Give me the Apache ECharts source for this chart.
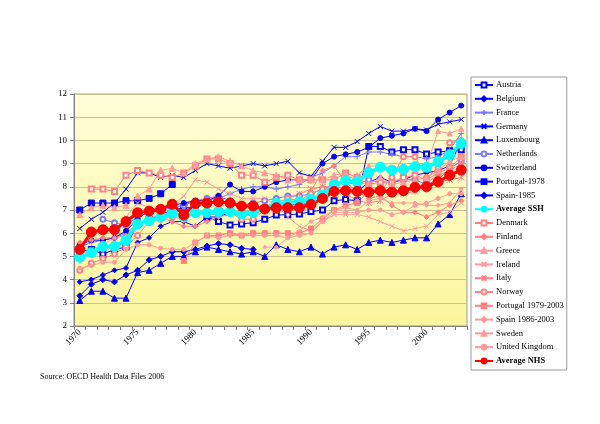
<!DOCTYPE html>
<html><head><meta charset="utf-8">
<script src="https://cdn.jsdelivr.net/npm/echarts@6/dist/echarts.min.js"></script>
<style>html,body{margin:0;padding:0;background:#fff}#c{width:600px;height:424px}</style>
</head><body><div id="c"></div>
<script>
const years = ['1970','1971','1972','1973','1974','1975','1976','1977','1978','1979','1980','1981','1982','1983','1984','1985','1986','1987','1988','1989','1990','1991','1992','1993','1994','1995','1996','1997','1998','1999','2000','2001','2002','2003'];
const yTicks = [2,3,4,5,6,7,8,9,10,11,12];
const _ = null;
const austria     = [5.2,5.3,5.1,5.3,5.4,6.4,6.6,6.8,7.0,7.1, 7.1,6.7,6.5,6.35,6.4,6.45,6.6,6.78,6.8,6.83, 6.93,7.0,7.4,7.45,7.4,9.74,9.74,9.5,9.6,9.6, 9.41,9.5,9.55,9.6];
const belgium     = [3.9,4.0,4.2,4.4,4.5,5.6,5.8,6.3,6.5,6.5, 6.3,6.7,6.7,6.9,6.8,7.0,7.1,7.2,7.2,7.3, 7.2,7.6,7.8,7.9,7.8,8.2,8.4,8.2,8.3,8.5, 8.6,8.7,8.9,10.0];
const france      = [5.4,5.6,5.7,5.8,6.0,6.4,6.6,6.7,6.9,7.0, 7.0,7.4,7.5,7.7,7.9,8.0,8.0,7.9,8.0,8.1, 8.4,8.6,8.9,9.3,9.3,9.5,9.5,9.4,9.3,9.3, 9.2,9.3,9.6,10.3];
const germany     = [6.2,6.6,6.9,7.3,7.9,8.6,8.6,8.4,8.5,8.4, 8.7,9.0,8.9,8.8,8.9,9.0,8.9,9.0,9.1,8.6, 8.45,9.1,9.7,9.7,9.95,10.3,10.6,10.4,10.4,10.5, 10.45,10.7,10.8,10.9];
const luxembourg  = [3.1,3.5,3.5,3.2,3.2,4.3,4.4,4.7,5.0,5.0, 5.2,5.4,5.3,5.2,5.1,5.2,5.0,5.5,5.3,5.2, 5.4,5.1,5.4,5.5,5.3,5.6,5.7,5.6,5.7,5.8, 5.8,6.4,6.8,7.7];
const netherlands = [_,_,6.6,6.45,6.35,6.7,6.9,7.0,7.1,7.2, 7.4,7.5,7.6,7.4,7.2,7.3,7.4,7.5,7.6,7.6, 7.7,7.9,8.1,8.2,8.1,8.3,8.2,8.2,8.3,8.3, 8.1,8.3,8.8,9.1];
const switzerland = [5.5,5.7,5.7,5.8,6.1,6.6,7.0,7.1,7.2,7.3, 7.4,7.4,7.6,8.1,7.8,7.8,8.0,8.2,8.3,8.3, 8.3,9.0,9.3,9.4,9.5,9.7,10.1,10.2,10.3,10.5, 10.4,10.9,11.2,11.5];
const portugal78  = [7.0,7.3,7.3,7.3,7.4,7.4,7.5,7.7,8.1,_, _,_,_,_,_,_,_,_,_,_, _,_,_,_,_,_,_,_,_,_, _,_,_,_];
const spain85     = [3.3,3.8,4.0,3.9,4.2,4.4,4.85,5.0,5.2,5.2, 5.3,5.45,5.55,5.5,5.35,5.3,_,_,_,_, _,_,_,_,_,_,_,_,_,_, _,_,_,_];
const avgSSH      = [4.96,5.16,5.43,5.43,5.7,6.4,6.54,6.7,6.86,6.71, 6.88,6.89,6.93,6.93,6.83,6.89,7.07,7.29,7.29,7.36, 7.46,7.65,8.1,8.26,8.22,8.61,8.84,8.72,8.75,8.87, 8.84,9.08,9.37,9.87];
const denmark     = [_,7.9,7.9,7.8,8.5,8.7,8.6,8.5,8.4,8.6, 8.9,9.2,9.2,9.0,8.5,8.5,8.2,8.4,8.5,8.3, 8.3,8.3,8.3,8.6,8.4,8.1,8.2,8.2,8.4,8.5, 8.3,8.6,8.8,9.3];
const finland     = [5.6,5.7,5.8,5.8,5.9,6.3,6.7,6.7,6.5,6.3, 6.3,6.5,6.7,6.8,6.8,7.1,7.1,7.3,7.1,7.3, 7.8,8.7,8.9,8.2,7.8,7.5,7.6,7.2,6.9,6.9, 6.7,6.9,7.2,7.4];
const greece      = [_,_,_,_,_,_,_,_,_,_, _,_,_,_,_,_,_,7.0,7.2,7.4, 7.4,7.6,7.9,8.3,8.5,8.9,8.9,8.7,8.7,8.9, 8.9,10.4,10.3,10.5];
const ireland     = [5.1,5.3,5.5,5.8,6.7,7.3,7.1,7.0,7.2,7.6, 8.3,8.2,7.9,7.7,7.5,7.5,7.5,7.2,6.7,6.3, 6.1,6.5,6.8,6.8,6.8,6.7,6.5,6.3,6.1,6.2, 6.3,6.8,6.9,7.3];
const italy       = [_,_,_,_,_,_,_,_,_,_, _,_,_,_,_,_,_,_,7.5,7.7, 7.9,8.0,8.0,7.7,7.4,7.3,7.4,7.7,7.7,7.8, 8.1,8.2,8.3,8.4];
const norway      = [4.4,4.7,4.9,5.1,5.4,5.9,6.5,6.6,6.7,6.6, 7.0,6.8,6.8,6.9,6.6,6.6,7.0,7.3,7.5,7.4, 7.7,7.9,8.0,7.9,7.8,7.9,7.8,8.4,9.3,9.3, 8.4,8.8,9.9,10.0];
const portugal79  = [_,_,_,_,_,_,_,_,_,4.8, 5.6,5.9,5.9,6.0,5.9,6.0,6.0,6.0,6.0,6.0, 6.2,6.6,7.0,7.2,7.3,7.8,8.0,7.8,7.8,7.9, 8.2,8.5,8.7,9.0];
const spain86     = [_,_,_,_,_,_,_,_,_,_, _,_,_,_,_,_,5.4,5.4,5.8,6.1, 6.5,6.7,7.0,7.1,7.0,7.4,7.5,7.3,7.3,7.3, 7.2,7.2,7.3,7.9];
const sweden      = [6.8,7.1,7.2,7.1,7.2,7.6,7.9,8.7,8.8,8.6, 9.0,9.2,9.3,9.1,8.9,8.7,8.6,8.5,8.3,8.3, 8.3,8.3,8.5,8.6,8.2,8.1,8.4,8.1,8.2,8.3, 8.4,8.7,9.1,9.3];
const uk          = [4.5,4.6,4.75,4.75,5.3,5.5,5.5,5.35,5.3,5.3, 5.6,5.9,5.8,5.9,5.9,5.9,5.9,5.9,5.8,5.9, 6.0,6.5,6.9,6.9,6.9,7.0,7.0,6.8,6.9,7.2, 7.3,7.5,7.7,7.7];
const avgNHS      = [5.3,6.05,6.15,6.15,6.5,6.88,6.95,7.03,7.25,6.78, 7.28,7.3,7.35,7.3,7.17,7.17,7.04,7.1,7.1,7.1, 7.24,7.5,7.8,7.83,7.8,7.77,7.83,7.77,7.83,7.98, 8.0,8.22,8.5,8.72];

const X = 'path://M0,0L10,10M10,0L0,10';
const PLUS = 'path://M5,0L5,10M0,5L10,5';
const STAR = 'path://M0,0L10,10M10,0L0,10M5,0L5,10';
const B = '#0000ff', LB = '#7a7aff', P = '#ff8080', LP = '#ff9a9a';
const defs = [
  ['Austria', austria, B, 'emptyRect', 5],
  ['Belgium', belgium, B, 'diamond', 5],
  ['France', france, LB, PLUS, 6, true],
  ['Germany', germany, B, X, 5, true],
  ['Luxembourg', luxembourg, B, 'triangle', 6],
  ['Netherlands', netherlands, LB, 'emptyCircle', 5],
  ['Switzerland', switzerland, B, 'circle', 5],
  ['Portugal-1978', portugal78, B, 'rect', 6],
  ['Spain-1985', spain85, B, 'diamond', 6],
  ['Average SSH', avgSSH, '#00ffff', 'circle', 10, false, 3.5, true],
  ['Denmark', denmark, P, 'emptyRect', 5],
  ['Finland', finland, P, 'diamond', 5],
  ['Greece', greece, LP, 'triangle', 5],
  ['Ireland', ireland, LP, X, 5, true],
  ['Italy', italy, P, STAR, 6, true],
  ['Norway', norway, P, 'emptyCircle', 5],
  ['Portugal 1979-2003', portugal79, P, 'rect', 5],
  ['Spain 1986-2003', spain86, LP, 'diamond', 4],
  ['Sweden', sweden, LP, 'triangle', 6],
  ['United Kingdom', uk, LP, 'circle', 4],
  ['Average NHS', avgNHS, '#ff0000', 'circle', 10, false, 3, true]
];
const series = defs.map(d => {
  const [name, data, color, symbol, size, stroke, lw, avg] = d;
  return {
    name, type: 'line', data, symbol, symbolSize: size,
    showAllSymbol: true, connectNulls: false, z: avg ? 5 : 2,
    lineStyle: { color, width: lw || 1 },
    itemStyle: { color, borderColor: color, borderWidth: 1 },
    emphasis: { disabled: true }, animation: false
  };
});
const chart = echarts.init(document.getElementById('c'), null, { renderer: 'canvas' });
chart.setOption({
  backgroundColor: '#ffffff',
  animation: false,
  textStyle: { fontFamily: 'Liberation Serif' },
  grid: {
    left: 74, top: 94, right: 133, bottom: 98, show: true,
    borderColor: '#9a9a9a', borderWidth: 1,
    backgroundColor: { type: 'linear', x: 0, y: 0, x2: 0, y2: 1,
      colorStops: [{ offset: 0, color: '#fffed8' }, { offset: 1, color: '#fbf69c' }] }
  },
  legend: {
    orient: 'vertical', left: 471, top: 77,
    padding: [3, 3, 4, 3], itemGap: 3.8, itemWidth: 18, itemHeight: 6,
    backgroundColor: '#ffffff', borderColor: '#9a9a9a', borderWidth: 1, borderRadius: 0,
    textStyle: { fontFamily: 'Liberation Serif', fontSize: 8.5, color: '#000', lineHeight: 10, padding: [0, 0, 0, -2] },
    data: defs.map(d => d[7] ? { name: d[0], textStyle: { fontWeight: 'bold' } } : { name: d[0] }),
    selectedMode: false
  },
  xAxis: {
    type: 'category', data: years, boundaryGap: true,
    axisLine: { lineStyle: { color: '#808080' } },
    axisTick: { show: true, interval: 0, length: 4, lineStyle: { color: '#808080' } },
    axisLabel: { interval: 4, rotate: 45, margin: 5, fontSize: 9, color: '#000', fontFamily: 'Liberation Serif' },
    splitLine: { show: false }
  },
  yAxis: {
    type: 'value', min: yTicks[0], max: yTicks[yTicks.length - 1], interval: 1,
    axisLine: { show: true, lineStyle: { color: '#808080' } },
    axisTick: { show: true, length: 4, lineStyle: { color: '#808080' } },
    axisLabel: { fontSize: 9, color: '#000', margin: 7, fontFamily: 'Liberation Serif' },
    splitLine: { lineStyle: { color: '#c9c393', width: 1 } }
  },
  graphic: [{
    type: 'text', left: 40, top: 373,
    style: { text: 'Source: OECD Health Data Files 2006', fontFamily: 'Liberation Serif', fontSize: 8, fill: '#000' }
  }],
  series
});
</script></body></html>
